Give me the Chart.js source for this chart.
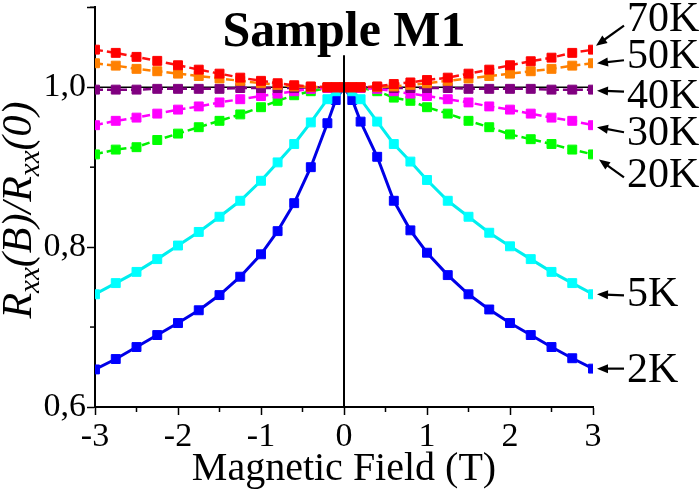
<!DOCTYPE html>
<html>
<head>
<meta charset="utf-8">
<script src="https://cdn.jsdelivr.net/npm/chart.js@4.4.1/dist/chart.umd.min.js"></script>
<style>
  html, body { margin: 0; padding: 0; background: #fff; }
  #wrap { width: 700px; height: 490px; }
</style>
</head>
<body>
<div id="wrap"><canvas id="mr" width="700" height="490"></canvas></div>
<script>
// magnetic field points (T)
const field = [-3, -2.75, -2.5, -2.25, -2, -1.75, -1.5, -1.25, -1, -0.8, -0.6, -0.4, -0.2, -0.1, 0,
  0.1, 0.2, 0.4, 0.6, 0.8, 1, 1.25, 1.5, 1.75, 2, 2.25, 2.5, 2.75, 3];

// Rxx(B)/Rxx(0)
const r70K = [1.047, 1.043, 1.038, 1.033, 1.0275, 1.022, 1.017, 1.012, 1.008, 1.005, 1.0025, 1.001, 1.0, 1.0, 1.0,
  1.0, 1.0, 1.001, 1.004, 1.006, 1.009, 1.012, 1.017, 1.022, 1.0275, 1.0325, 1.037, 1.043, 1.047];
const r50K = [1.030, 1.027, 1.023, 1.020, 1.017, 1.014, 1.011, 1.008, 1.005, 1.003, 1.001, 1.0005, 1.0, 1.0, 1.0,
  1.0, 1.0, 1.0005, 1.001, 1.003, 1.005, 1.008, 1.011, 1.014, 1.017, 1.020, 1.023, 1.027, 1.030];
const r40K = [0.997, 0.997, 0.997, 0.998, 0.998, 0.998, 0.998, 0.999, 0.999, 0.999, 0.999, 1.0, 1.0, 1.0, 1.0,
  1.0, 1.0, 1.0, 0.999, 0.999, 0.999, 0.999, 0.998, 0.998, 0.998, 0.998, 0.997, 0.997, 0.997];
const r30K = [0.9525, 0.958, 0.962, 0.967, 0.972, 0.976, 0.981, 0.985, 0.989, 0.992, 0.995, 0.998, 0.999, 1.0, 1.0,
  1.0, 0.999, 0.998, 0.995, 0.992, 0.989, 0.985, 0.981, 0.976, 0.972, 0.967, 0.962, 0.958, 0.9525];
const r20K = [0.916, 0.922, 0.925, 0.934, 0.942, 0.950, 0.958, 0.966, 0.975, 0.983, 0.990, 0.995, 0.999, 1.0, 1.0,
  1.0, 0.999, 0.995, 0.987, 0.983, 0.975, 0.967, 0.958, 0.950, 0.941, 0.935, 0.929, 0.922, 0.916];
const r5K = [0.741, 0.755, 0.769, 0.785, 0.802, 0.819, 0.838, 0.858, 0.883, 0.906, 0.929, 0.956, 0.985, 0.995, 1.0,
  0.995, 0.985, 0.957, 0.929, 0.907, 0.884, 0.858, 0.838, 0.818, 0.801, 0.785, 0.769, 0.755, 0.741];
const r2K = [0.647, 0.660, 0.675, 0.690, 0.705, 0.721, 0.740, 0.763, 0.791, 0.820, 0.855, 0.900, 0.955, 0.984, 1.0,
  0.984, 0.957, 0.913, 0.858, 0.821, 0.793, 0.765, 0.741, 0.722, 0.705, 0.690, 0.675, 0.661, 0.648];

const temps = ['70K', '50K', '40K', '30K', '20K', '5K', '2K'];
const series = [r70K, r50K, r40K, r30K, r20K, r5K, r2K];

// y ticks with comma decimals
const yTickLabels = { '0.6': '0,6', '0.8': '0,8', '1.0': '1,0' };
const xTickLabels = ['-3', '-2', '-1', '0', '1', '2', '3'];

const colors = ['#ff0000', '#ff8000', '#800080', '#ff00ff', '#00ff00', '#00ffff', '#0000ff'];
const lineColors = ['#ff1010', '#ff8000', '#800080', '#ff00ff', '#00f000', '#00eeee', '#0000e6'];
const dashed = [true, true, true, true, true, false, false];
// arrow / label offsets from each curve's last point (px): [tipDx, tipDy, tailDy, labelDy]
const callout = [[3, -4, -24, -32], [4, 0, -3, -8], [4, 1, 2, 5], [4, 2, 7, 7], [6, 5, 23, 20], [4, 0, 1, -1], [4, 0, 0, 0]];

const serif = '"Liberation Serif", "Times New Roman", serif';

const datasets = temps.map((t, i) => ({
  label: t,
  data: field.map((b, j) => ({ x: b, y: series[i][j] })),
  borderColor: lineColors[i],
  backgroundColor: colors[i],
  pointBackgroundColor: colors[i],
  pointBorderColor: colors[i],
  borderWidth: dashed[i] ? 2.5 : 3,
  borderDash: dashed[i] ? [8, 4] : [],
  pointStyle: 'rect',
  pointRadius: 6.3,
  pointBorderWidth: 1,
  tension: 0,
}));

const extras = {
  id: 'extras',
  beforeDatasetsDraw(chart) {
    const { ctx, scales: { x, y } } = chart;
    ctx.save();
    // reference line at 1,0
    ctx.strokeStyle = '#000';
    ctx.lineWidth = 1.5;
    ctx.beginPath();
    ctx.moveTo(x.getPixelForValue(-3), y.getPixelForValue(1));
    ctx.lineTo(x.getPixelForValue(3), y.getPixelForValue(1));
    ctx.stroke();
    ctx.restore();
  },
  afterDraw(chart) {
    const { ctx, chartArea, scales: { x, y } } = chart;
    ctx.save();
    ctx.strokeStyle = '#000';
    ctx.fillStyle = '#000';

    // zero field line
    ctx.lineWidth = 2;
    ctx.beginPath();
    ctx.moveTo(x.getPixelForValue(0), y.getPixelForValue(1.04));
    ctx.lineTo(x.getPixelForValue(0), chartArea.bottom);
    ctx.stroke();

    // minor ticks
    ctx.lineWidth = 1.5;
    [-2.5, -1.5, -0.5, 0.5, 1.5, 2.5].forEach(v => {
      const px = x.getPixelForValue(v);
      ctx.beginPath();
      ctx.moveTo(px, chartArea.bottom);
      ctx.lineTo(px, chartArea.bottom + 5);
      ctx.stroke();
    });
    [0.7, 0.9, 1.1].forEach(v => {
      const py = y.getPixelForValue(v);
      ctx.beginPath();
      ctx.moveTo(chartArea.left, py);
      ctx.lineTo(chartArea.left - 5, py);
      ctx.stroke();
    });

    // title
    ctx.font = 'bold 50px ' + serif;
    ctx.textAlign = 'center';
    ctx.textBaseline = 'alphabetic';
    ctx.fillText('Sample M1', x.getPixelForValue(0), 46);

    // x axis title
    ctx.font = '40px ' + serif;
    ctx.fillText('Magnetic Field (T)', (chartArea.left + chartArea.right) / 2, 480);

    // y axis title with subscripts
    ctx.save();
    ctx.translate(31, 210);
    ctx.rotate(-Math.PI / 2);
    const parts = [['R', 42, 0], ['xx', 29, 8], ['(B)/', 42, 0], ['R', 42, 0], ['xx', 29, 8], ['(0)', 42, 0]];
    let total = 0;
    parts.forEach(p => { ctx.font = 'italic ' + p[1] + 'px ' + serif; total += ctx.measureText(p[0]).width; });
    let cx = -total / 2;
    ctx.textAlign = 'left';
    parts.forEach(p => {
      ctx.font = 'italic ' + p[1] + 'px ' + serif;
      ctx.fillText(p[0], cx, p[2]);
      cx += ctx.measureText(p[0]).width;
    });
    ctx.restore();

    // temperature callouts
    chart.data.datasets.forEach((ds, i) => {
      const meta = chart.getDatasetMeta(i);
      const last = meta.data[meta.data.length - 1];
      const [tdx, tdy, tailDy, labDy] = callout[i];
      const tipX = last.x + tdx, tipY = last.y + tdy;
      const tailX = last.x + 31, tailY = last.y + tailDy;
      const ang = Math.atan2(tipY - tailY, tipX - tailX);
      ctx.lineWidth = 2.2;
      ctx.beginPath();
      ctx.moveTo(tailX, tailY);
      ctx.lineTo(tipX - 8 * Math.cos(ang), tipY - 8 * Math.sin(ang));
      ctx.stroke();
      ctx.beginPath();
      ctx.moveTo(tipX, tipY);
      ctx.lineTo(tipX - 11 * Math.cos(ang) + 4.5 * Math.sin(ang), tipY - 11 * Math.sin(ang) - 4.5 * Math.cos(ang));
      ctx.lineTo(tipX - 11 * Math.cos(ang) - 4.5 * Math.sin(ang), tipY - 11 * Math.sin(ang) + 4.5 * Math.cos(ang));
      ctx.closePath();
      ctx.fill();
      ctx.font = '42px ' + serif;
      ctx.textAlign = 'left';
      ctx.textBaseline = 'middle';
      ctx.fillText(ds.label, last.x + 34, last.y + labDy + 2);
    });
    ctx.restore();
  }
};

new Chart(document.getElementById('mr'), {
  type: 'line',
  data: { datasets: datasets },
  options: {
    responsive: false,
    animation: false,
    layout: { padding: { left: 0, right: 107, top: 7, bottom: 0 } },
    plugins: { legend: { display: false }, tooltip: { enabled: false }, title: { display: false } },
    scales: {
      x: {
        type: 'linear',
        min: -3,
        max: 3,
        ticks: {
          stepSize: 1,
          color: '#000',
          padding: 2,
          font: { family: serif, size: 34 },
          callback: (v) => xTickLabels[Math.round(v) + 3],
        },
        grid: { drawOnChartArea: false, tickLength: 8, tickColor: '#000', tickWidth: 1.5 },
        border: { color: '#000', width: 2 },
        afterFit: (s) => { s.height = 83; s.paddingLeft = 0; s.paddingRight = 0; },
      },
      y: {
        min: 0.6,
        max: 1.1,
        ticks: {
          stepSize: 0.2,
          color: '#000',
          padding: 1,
          font: { family: serif, size: 34 },
          callback: (v) => yTickLabels[v.toFixed(1)] || '',
        },
        grid: { drawOnChartArea: false, tickLength: 8, tickColor: '#000', tickWidth: 1.5 },
        border: { color: '#000', width: 2 },
        afterFit: (s) => { s.width = 95; s.paddingTop = 0; s.paddingBottom = 0; },
      },
    },
  },
  plugins: [extras],
});
</script>
</body>
</html>
